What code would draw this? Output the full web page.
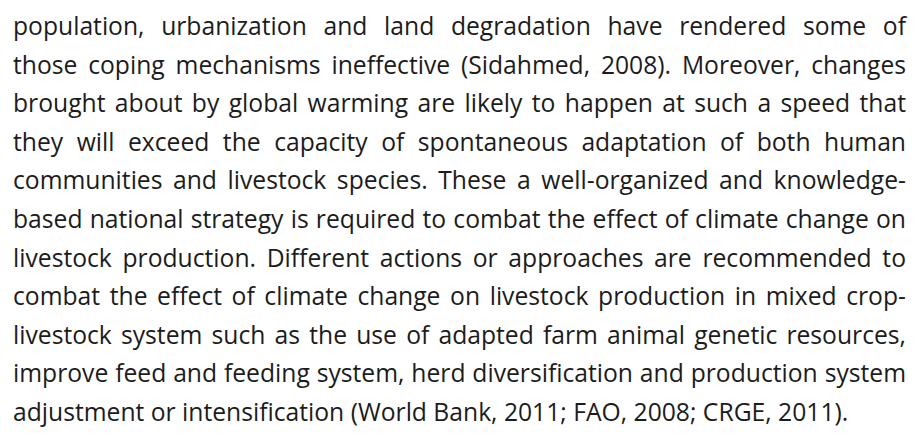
<!DOCTYPE html>
<html>
<head>
<meta charset="utf-8">
<script src="https://cdn.jsdelivr.net/npm/chart.js@4"></script>
<style>
  html, body { margin: 0; padding: 0; background: #fff; }
  body { width: 918px; height: 439px; overflow: hidden; position: relative; }
  #page { position: absolute; left: 13px; top: 0; width: 893px; color: #1c1c1c; font-family: "Open Sans", sans-serif; }
  .ln { white-space: nowrap; text-align: justify; text-align-last: justify; }
  .ln.last { text-align-last: left; }
</style>
</head>
<body>
<div id="page"></div>
<script>
// paragraph lines, as broken in the reference
const lines = [
  'population, urbanization and land degradation have rendered some of',
  'those coping mechanisms ineffective (Sidahmed, 2008). Moreover, changes',
  'brought about by global warming are likely to happen at such a speed that',
  'they will exceed the capacity of spontaneous adaptation of both human',
  'communities and livestock species. These a well-organized and knowledge-',
  'based national strategy is required to combat the effect of climate change on',
  'livestock production. Different actions or approaches are recommended to',
  'combat the effect of climate change on livestock production in mixed crop-',
  'livestock system such as the use of adapted farm animal genetic resources,',
  'improve feed and feeding system, herd diversification and production system',
  'adjustment or intensification (World Bank, 2011; FAO, 2008; CRGE, 2011).'
];

const lastLineWidth = 837;   // natural width of the unjustified last line
const boxWidth = 893;
const lineGap = 38.6;
const firstBaseline = 36;

const fam = '"Open Sans", sans-serif';
const cv = document.createElement('canvas').getContext('2d');
function natural(txt, size) { cv.font = size + 'px ' + fam; return cv.measureText(txt).width; }

let size = 100 * lastLineWidth / natural(lines[lines.length - 1], 100);
lines.forEach(t => {
  const w = natural(t, size);
  if (w > boxWidth - 4) size *= (boxWidth - 4) / w;
});

const page = document.getElementById('page');
const ascent = 1.069, descent = 0.293;
const baseOff = lineGap / 2 + (ascent - descent) / 2 * size;
page.style.fontSize = size + 'px';
page.style.lineHeight = lineGap + 'px';
page.style.top = (firstBaseline - baseOff) + 'px';
lines.forEach((t, i) => {
  const d = document.createElement('div');
  d.className = 'ln' + (i === lines.length - 1 ? ' last' : '');
  d.textContent = t;
  page.appendChild(d);
});
</script>
</body>
</html>
